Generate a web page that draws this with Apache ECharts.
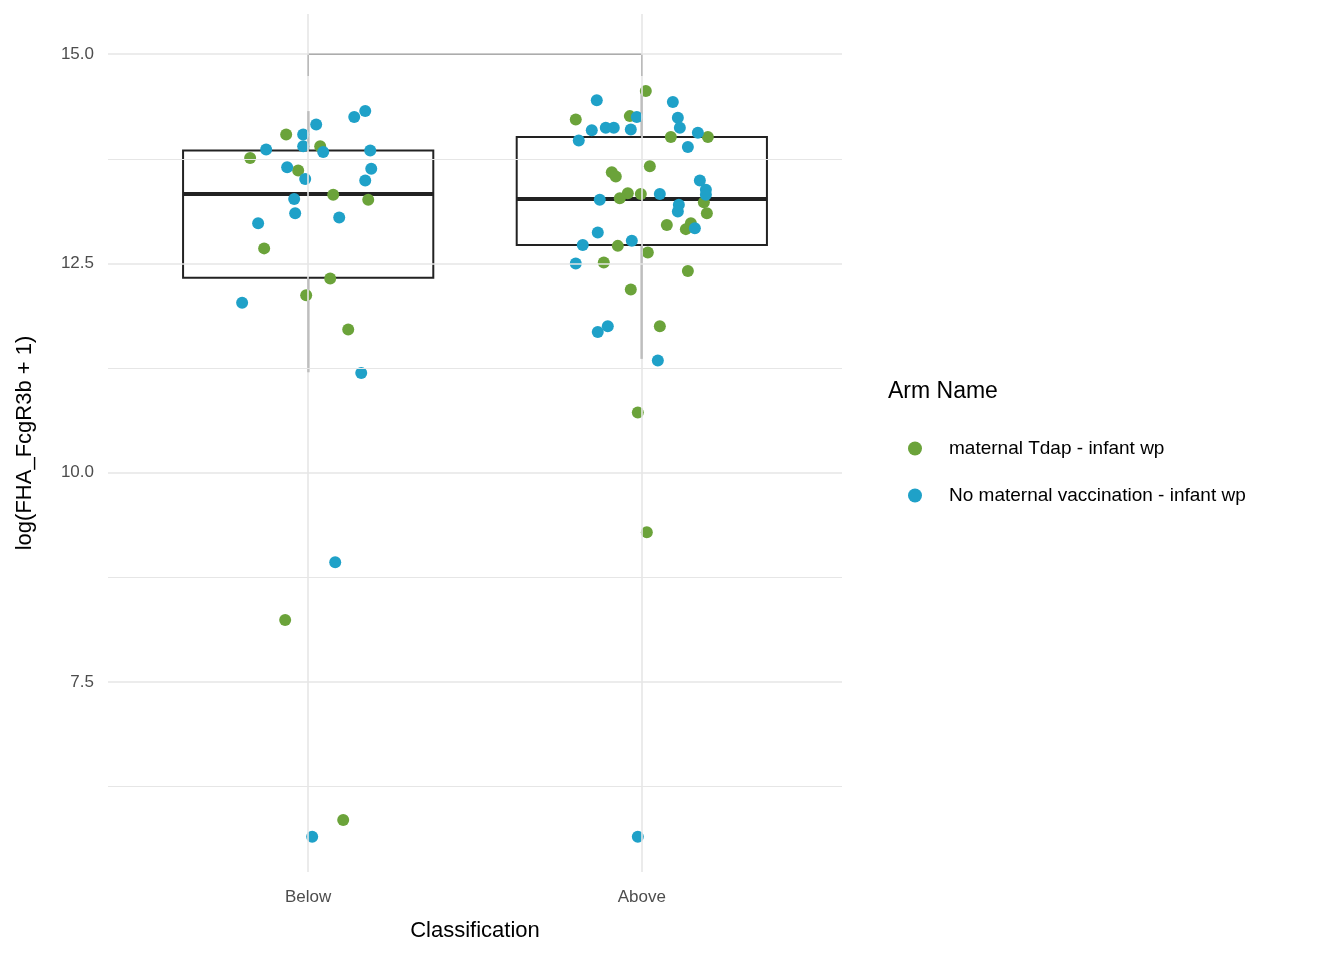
<!DOCTYPE html>
<html><head><meta charset="utf-8">
<script src="https://cdn.jsdelivr.net/npm/echarts@6/dist/echarts.min.js"></script>
<style>html,body{margin:0;padding:0;background:#fff}#c{width:1344px;height:960px}</style>
</head><body><div id="c"></div>
<script>
const categories = ['Below','Above'];
const yTicks = [7.5,10,12.5,15];
const minorGrid = [6.25,8.75,11.25,13.75];
// [x, min, q1, median, q3, max]
const boxStats = [[1,11.2,12.33,13.33,13.85,14.32],[2,11.36,12.72,13.27,14.01,14.56]];
const bracket = [[1,14.74],[1,15],[2,15],[2,14.74]];
const greenPts = [
[0.826,13.76],[0.934,14.04],[0.970,13.61],[1.036,13.90],[1.075,13.32],[1.180,13.26],[0.868,12.68],[0.994,12.12],[1.066,12.32],[1.120,11.71],[0.931,8.24],[1.105,5.85],
[1.802,14.22],[1.964,14.26],[2.012,14.56],[1.910,13.59],[1.922,13.54],[2.024,13.66],[1.958,13.34],[1.934,13.28],[1.997,13.33],[2.087,14.01],[2.198,14.01],[2.186,13.23],[2.195,13.10],[2.147,12.98],[2.132,12.91],[2.075,12.96],[1.928,12.71],[1.886,12.51],[2.018,12.63],[2.138,12.41],[1.967,12.19],[2.054,11.75],[1.988,10.72],[2.015,9.29]];
const bluePts = [
[0.874,13.86],[0.985,14.04],[1.024,14.16],[0.985,13.90],[1.045,13.83],[0.937,13.65],[0.991,13.51],[1.186,13.85],[1.189,13.63],[1.171,13.49],[0.958,13.27],[0.961,13.10],[1.093,13.05],[0.850,12.98],[1.138,14.25],[1.171,14.32],[0.802,12.03],[1.159,11.19],[1.081,8.93],[1.012,5.65],
[1.865,14.45],[1.811,13.97],[1.850,14.09],[1.892,14.12],[1.916,14.12],[1.967,14.10],[1.985,14.25],[2.093,14.43],[2.108,14.24],[2.114,14.12],[2.168,14.06],[2.138,13.89],[2.174,13.49],[2.192,13.38],[2.192,13.32],[2.054,13.33],[1.874,13.26],[2.111,13.20],[2.108,13.12],[2.159,12.92],[1.868,12.87],[1.823,12.72],[1.970,12.77],[1.802,12.50],[1.898,11.75],[1.868,11.68],[2.048,11.34],[1.988,5.65]];

const chart = echarts.init(document.getElementById('c'));
const gridLines = [];
yTicks.forEach(v=>gridLines.push({yAxis:v,lineStyle:{width:1.6}}));
minorGrid.forEach(v=>gridLines.push({yAxis:v,lineStyle:{width:1}}));
[1,2].forEach(v=>gridLines.push({xAxis:v,lineStyle:{width:1.6}}));
chart.setOption({
  animation:false,
  grid:{left:108,right:502,top:14,bottom:88},
  xAxis:{type:'value',min:0.4,max:2.6,name:'Classification',nameLocation:'middle',nameGap:48,
    nameTextStyle:{fontSize:22,color:'#000',fontFamily:'Liberation Sans'},
    axisLine:{show:false},axisTick:{show:false},splitLine:{show:false},
    axisLabel:{customValues:[1,2],formatter:v=>categories[Math.round(v)-1]||'',fontSize:17,color:'#4d4d4d',margin:17,fontFamily:'Liberation Sans'}},
  yAxis:{type:'value',min:5.23,max:15.48,name:'log(FHA_FcgR3b + 1)',nameLocation:'middle',nameGap:72,
    nameTextStyle:{fontSize:22,color:'#000',fontFamily:'Liberation Sans'},
    axisLine:{show:false},axisTick:{show:false},splitLine:{show:false},
    axisLabel:{customValues:yTicks,formatter:v=>v.toFixed(1),fontSize:17,color:'#4d4d4d',margin:14,fontFamily:'Liberation Sans'}},
  legend:{orient:'vertical',left:903,top:434,itemGap:28,itemWidth:14,itemHeight:14,
    textStyle:{fontSize:19,color:'#000',fontFamily:'Liberation Sans',padding:[0,0,0,22]},
    data:[{name:'maternal Tdap - infant wp',icon:'circle'},{name:'No maternal vaccination - infant wp',icon:'circle'}]},
  graphic:[{type:'text',left:888,top:380,style:{text:'Arm Name',fontSize:23,fill:'#000',fontFamily:'Liberation Sans'}}],
  series:[
    {type:'line',data:[],silent:true,markLine:{symbol:'none',silent:true,label:{show:false},lineStyle:{color:'#e6e6e6',type:'solid'},data:gridLines}},
    {type:'custom',silent:true,z:2,data:boxStats,renderItem:function(params,api){
      const x=api.value(0),hw=0.375;
      const p=i=>api.coord([x,api.value(i)]);
      const l=api.coord([x-hw,0])[0], r=api.coord([x+hw,0])[0], cx=api.coord([x,0])[0];
      const s={stroke:'#222',lineWidth:2,fill:'none'};
      return {type:'group',children:[
        {type:'line',shape:{x1:cx,y1:p(1)[1],x2:cx,y2:p(2)[1]},style:s},
        {type:'line',shape:{x1:cx,y1:p(4)[1],x2:cx,y2:p(5)[1]},style:s},
        {type:'rect',shape:{x:l,y:p(4)[1],width:r-l,height:p(2)[1]-p(4)[1]},style:{stroke:'#222',lineWidth:2,fill:'rgba(0,0,0,0)'}},
        {type:'line',shape:{x1:l,y1:p(3)[1],x2:r,y2:p(3)[1]},style:{stroke:'#222',lineWidth:4}}
      ]};
    }},
    {type:'line',data:bracket,symbol:'none',silent:true,z:2,lineStyle:{color:'#000',width:1.5}},
    {name:'maternal Tdap - infant wp',type:'scatter',data:greenPts,symbolSize:12,z:3,itemStyle:{color:'#6BA33A',opacity:1}},
    {name:'No maternal vaccination - infant wp',type:'scatter',data:bluePts,symbolSize:12,z:3,itemStyle:{color:'#1FA1C8',opacity:1}}
  ]
});
</script></body></html>
